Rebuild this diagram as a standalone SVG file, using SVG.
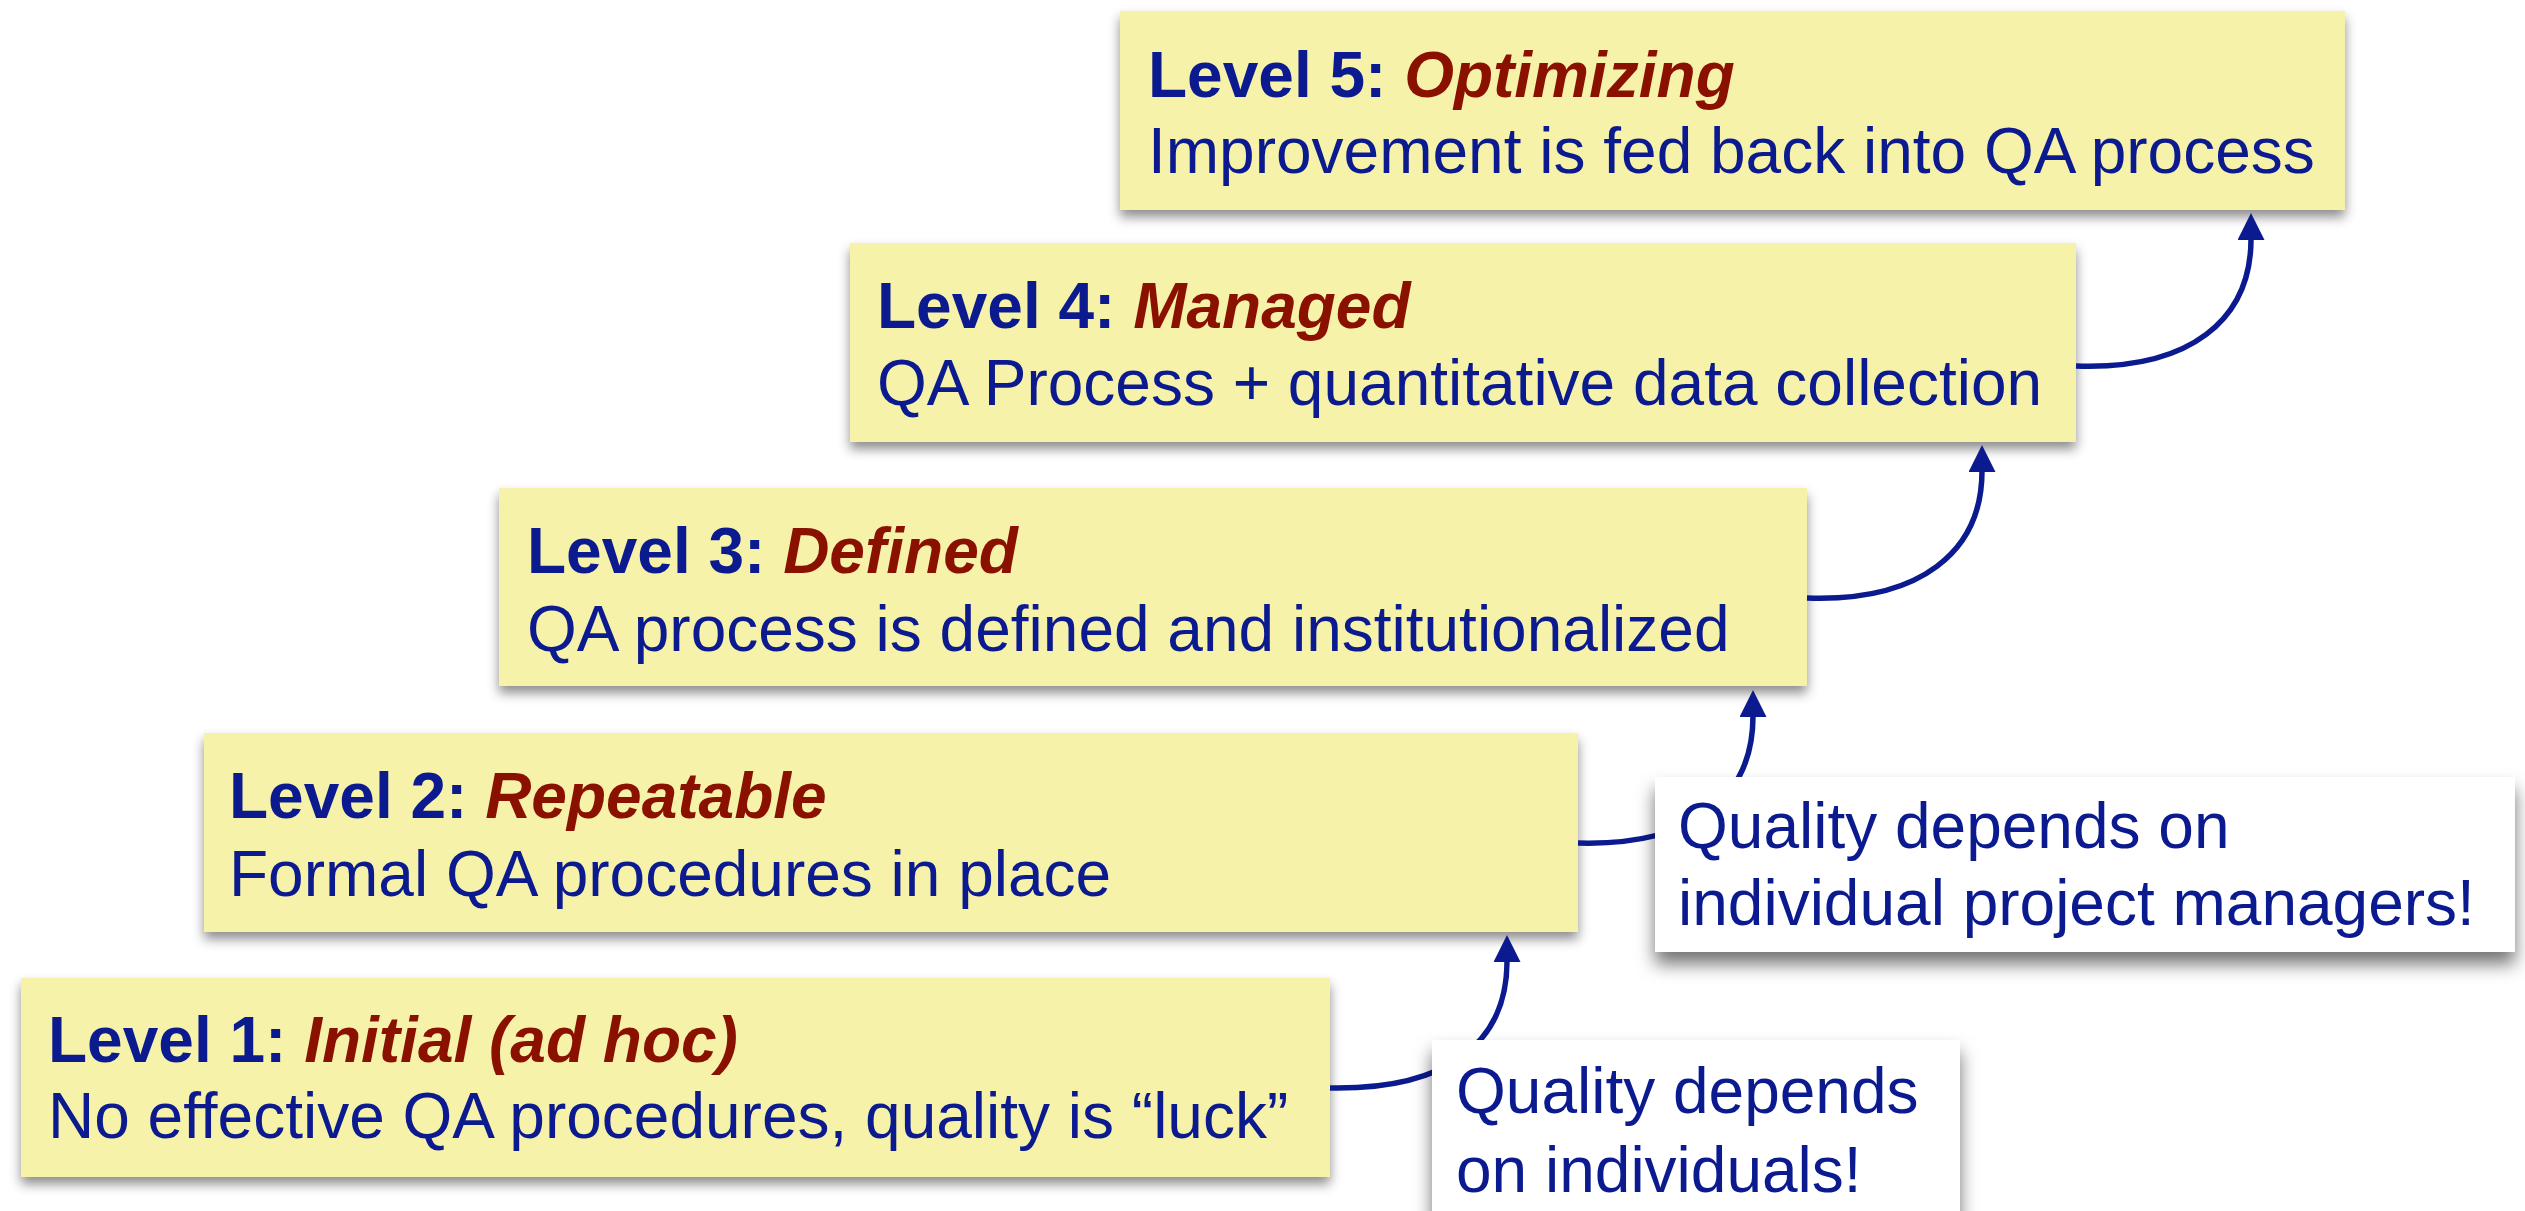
<svg xmlns="http://www.w3.org/2000/svg" width="2525" height="1211" viewBox="0 0 2525 1211">
  <defs>
    <filter id="shadow" x="-5%" y="-10%" width="110%" height="130%">
      <feDropShadow dx="0" dy="7" stdDeviation="6" flood-color="#000" flood-opacity="0.45"/>
    </filter>
    <filter id="shadow2" x="-5%" y="-10%" width="110%" height="140%">
      <feDropShadow dx="0" dy="12" stdDeviation="9" flood-color="#000" flood-opacity="0.55"/>
    </filter>
    <marker id="arrow" markerUnits="userSpaceOnUse" markerWidth="27" markerHeight="27" viewBox="0 0 27 27" refX="1" refY="13.5" orient="auto">
      <path d="M0,0 L27,13.5 L0,27 z" fill="#0b1a8f"/>
    </marker>
    <style>
      .box { fill: #f7f2aa; filter: url(#shadow); }
      .callout { fill: #ffffff; filter: url(#shadow2); }
      text { font-family: "Liberation Sans", Arial, Helvetica, sans-serif; font-size: 64px; fill: #0b1a8f; }
      .lvl { font-weight: bold; }
      .name { font-weight: bold; font-style: italic; fill: #8a1100; }
      .conn { fill: none; stroke: #0b1a8f; stroke-width: 5.5; marker-end: url(#arrow); }
    </style>
  </defs>
  <rect width="2525" height="1211" fill="#ffffff"/>

  <g id="level5">
    <rect class="box" x="1120" y="11" width="1225" height="199"/>
    <text x="1148" y="97"><tspan class="lvl">Level 5: </tspan><tspan class="name">Optimizing</tspan></text>
    <text x="1148" y="173">Improvement is fed back into QA process</text>
  </g>
  <g id="level4">
    <rect class="box" x="850" y="243" width="1226" height="199"/>
    <text x="877" y="328"><tspan class="lvl">Level 4: </tspan><tspan class="name">Managed</tspan></text>
    <text x="877" y="405">QA Process + quantitative data collection</text>
  </g>
  <g id="level3">
    <rect class="box" x="499" y="488" width="1308" height="198"/>
    <text x="527" y="573"><tspan class="lvl">Level 3: </tspan><tspan class="name">Defined</tspan></text>
    <text x="527" y="651">QA process is defined and institutionalized</text>
  </g>
  <g id="level2">
    <rect class="box" x="204" y="733" width="1374" height="199"/>
    <text x="229" y="818"><tspan class="lvl">Level 2: </tspan><tspan class="name">Repeatable</tspan></text>
    <text x="229" y="896">Formal QA procedures in place</text>
  </g>
  <g id="level1">
    <rect class="box" x="21" y="978" width="1309" height="199"/>
    <text x="48" y="1062"><tspan class="lvl">Level 1: </tspan><tspan class="name">Initial (ad hoc)</tspan></text>
    <text x="48" y="1138">No effective QA procedures, quality is “luck”</text>
  </g>

  <g id="connectors">
    <path class="conn" d="M2076,366 C2190,370 2251,320 2251,239"/>
    <path class="conn" d="M1807,598 C1920,602 1982,552 1982,471"/>
    <path class="conn" d="M1578,843 C1690,846 1753,800 1753,716"/>
    <path class="conn" d="M1330,1088 C1445,1090 1507,1045 1507,961"/>
  </g>

  <g id="callout-managers">
    <rect class="callout" x="1655" y="777" width="860" height="175"/>
    <text x="1678" y="848">Quality depends on</text>
    <text x="1678" y="925">individual project managers!</text>
  </g>
  <g id="callout-individuals">
    <rect class="callout" x="1432" y="1040" width="528" height="200"/>
    <text x="1456" y="1113">Quality depends</text>
    <text x="1456" y="1192">on individuals!</text>
  </g>
</svg>
